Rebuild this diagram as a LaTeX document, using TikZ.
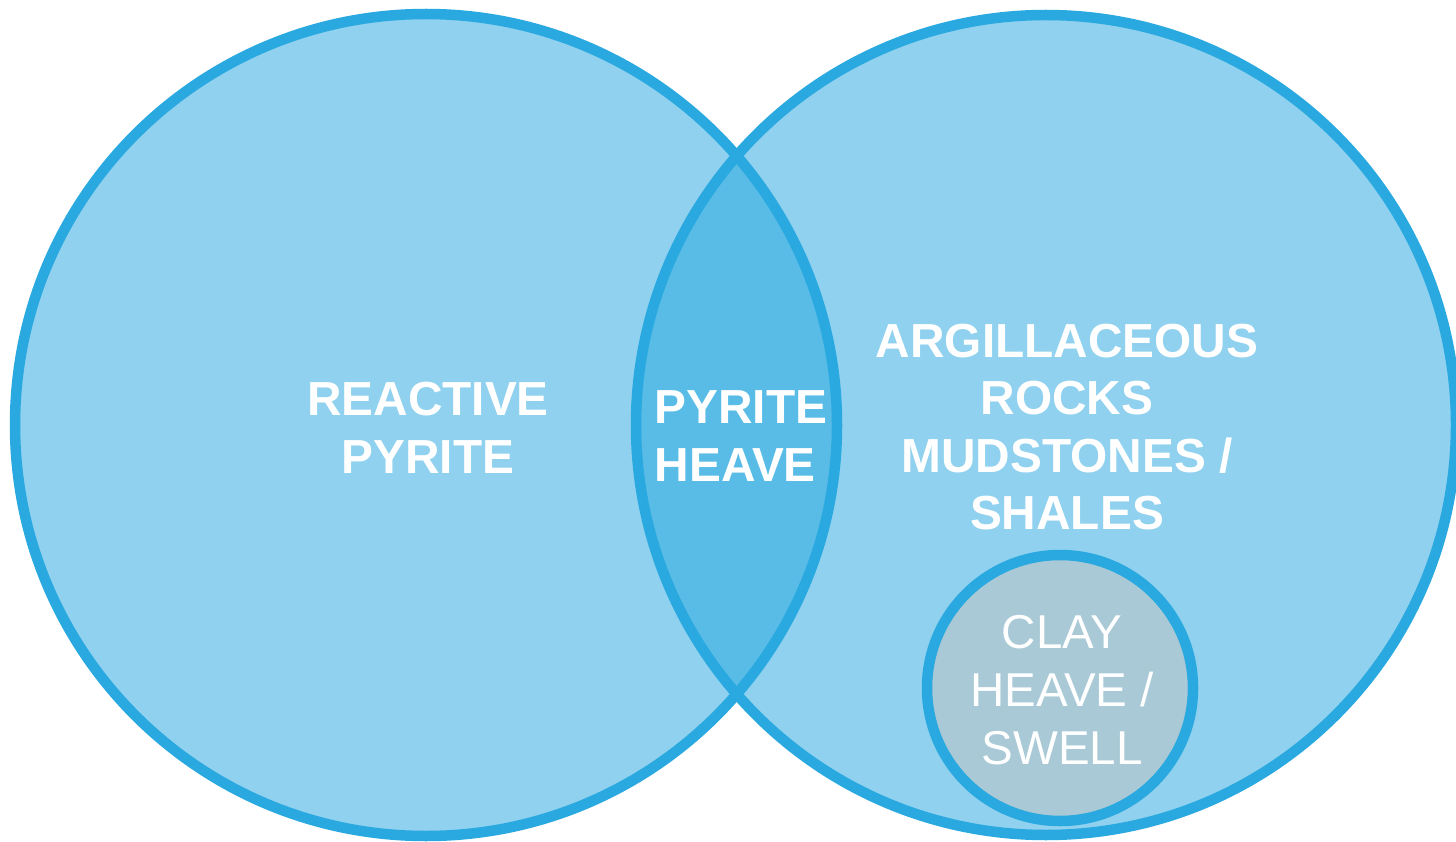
\documentclass[tikz,border=0pt]{standalone}
\usepackage{fontspec}
\setmainfont{Liberation Sans}
\definecolor{setfill}{HTML}{8FD1EE}
\definecolor{setline}{HTML}{29A9E0}
\definecolor{lensfill}{HTML}{58BCE6}
\definecolor{clayfill}{HTML}{A8C9D5}

\begin{document}
\begin{tikzpicture}[x=1pt,y=-1pt,
    ring/.style={draw=setline,line width=10.5pt},
    setlabel/.style={text=white,align=center,inner sep=0pt,
      font=\bfseries\fontsize{47.8}{57.5}\selectfont},
    claylabel/.style={text=white,align=center,inner sep=0pt,
      font=\fontsize{47.5}{58}\selectfont}]
  \useasboundingbox (0,0) rectangle (1456,842);
  % the two sets
  \fill[setfill] (426,425) circle[radius=411];
  \fill[setfill] (1046,425) circle[radius=410];
  % overlap
  \begin{scope}
    \clip (426,425) circle[radius=411];
    \fill[lensfill] (1046,425) circle[radius=410];
  \end{scope}
  \draw[ring] (426,425) circle[radius=411];% left set
  \draw[ring] (1046,425) circle[radius=410];% right set
  % clay inside the right set
  \filldraw[ring,fill=clayfill] (1060,688) circle[radius=133];
  % labels
  \node[setlabel] (pyrite) at (428,428) {REACTIVE\\PYRITE};
  \node[setlabel,align=left] (heave) at (741,436) {PYRITE\\HEAVE};
  \node[setlabel] (rocks) at (1067,427) {ARGILLACEOUS\\ROCKS\\MUDSTONES /\\SHALES};
  \node[claylabel] (clay) at (1062,690) {CLAY\\HEAVE /\\SWELL};
\end{tikzpicture}
\end{document}
